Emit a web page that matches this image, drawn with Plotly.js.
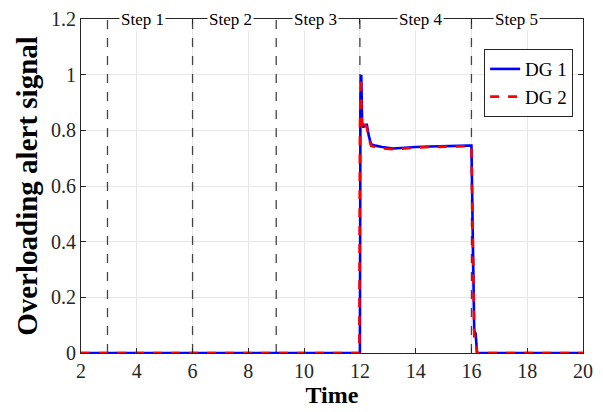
<!DOCTYPE html>
<html><head><meta charset="utf-8">
<script src="https://cdn.plot.ly/plotly-3.0.1.min.js"></script>
<style>body{margin:0;background:#fff}</style>
</head><body><div id="chart" style="width:603px;height:412px"></div>
<script>
const dg1T = [2, 12.0, 12.02, 12.05, 12.08, 12.12, 12.18, 12.25, 12.32, 12.4, 12.55, 12.8, 13.2, 13.6, 14.0, 14.5, 15.0, 15.5, 15.9, 16.0, 16.05, 16.1, 16.15, 16.2, 20];
const dg1V = [0, 0, 0.9, 1.0, 0.83, 0.81, 0.82, 0.82, 0.78, 0.75, 0.745, 0.74, 0.735, 0.738, 0.74, 0.742, 0.744, 0.745, 0.745, 0.745, 0.4, 0.08, 0.07, 0, 0];
const dg2T = [2, 11.98, 12.0, 12.03, 12.07, 12.1, 12.18, 12.25, 12.32, 12.4, 12.55, 12.8, 13.2, 13.6, 14.0, 14.5, 15.0, 15.5, 15.9, 16.0, 16.05, 16.1, 16.15, 16.2, 20];
const dg2V = [0, 0, 0.8, 0.99, 0.83, 0.8, 0.82, 0.81, 0.77, 0.745, 0.74, 0.735, 0.732, 0.736, 0.738, 0.74, 0.742, 0.743, 0.743, 0.743, 0.4, 0.06, 0.05, 0, 0];
const stepX = [2.95, 6, 9, 12, 16];
const stepLabels = ["Step 1", "Step 2", "Step 3", "Step 4", "Step 5"];
const stepLabelX = [4.21, 7.36, 10.42, 14.19, 17.6];

const shapes = stepX.map(x => ({type:'line', xref:'x', yref:'y', x0:x, x1:x, y0:0, y1:1.2,
  line:{color:'#444444', width:1.3, dash:'dash'}, layer:'between'}));
const annotations = stepLabels.map((t,i) => ({x:stepLabelX[i], y:1.2, xref:'x', yref:'y', text:t,
  showarrow:false, bgcolor:'white', font:{family:'Liberation Serif', size:17, color:'black'}, borderpad:1}));

const traces = [
  {x:dg1T, y:dg1V, mode:'lines', name:'DG 1', line:{color:'#0000ff', width:2.6}},
  {x:dg2T, y:dg2V, mode:'lines', name:'DG 2', line:{color:'#ff0000', width:2.6, dash:'dash'}}
];
const axisCommon = {showline:true, linecolor:'#262626', linewidth:1, mirror:'ticks', ticks:'inside', ticklen:5,
  tickcolor:'#262626', showgrid:true, gridcolor:'#e6e6e6', zeroline:false};
const layout = {
  width:603, height:412, margin:{l:81, r:20, t:19, b:59},
  paper_bgcolor:'white', plot_bgcolor:'white',
  xaxis:Object.assign({}, axisCommon, {range:[2,20], tickvals:[2,4,6,8,10,12,14,16,18,20],
    tickfont:{family:'Liberation Serif', size:20, color:'#262626'},
    title:{text:'<b>Time</b>', font:{family:'Liberation Serif', size:24, color:'black'}, standoff:0}}),
  yaxis:Object.assign({}, axisCommon, {range:[0,1.2], tickvals:[0,0.2,0.4,0.6,0.8,1,1.2],
    ticktext:['0','0.2','0.4','0.6','0.8','1','1.2'],
    tickfont:{family:'Liberation Serif', size:20, color:'#262626'},
    title:{text:'<b>Overloading alert signal</b>', font:{family:'Liberation Serif', size:29, color:'black'}, standoff:4}}),
  legend:{x:0.803, y:0.91, xanchor:'left', yanchor:'top', bgcolor:'white', bordercolor:'#262626', borderwidth:1,
    font:{family:'Liberation Serif', size:19, color:'black'}, tracegroupgap:0},
  shapes:shapes, annotations:annotations, showlegend:true
};
Plotly.newPlot('chart', traces, layout, {displayModeBar:false});
</script></body></html>
